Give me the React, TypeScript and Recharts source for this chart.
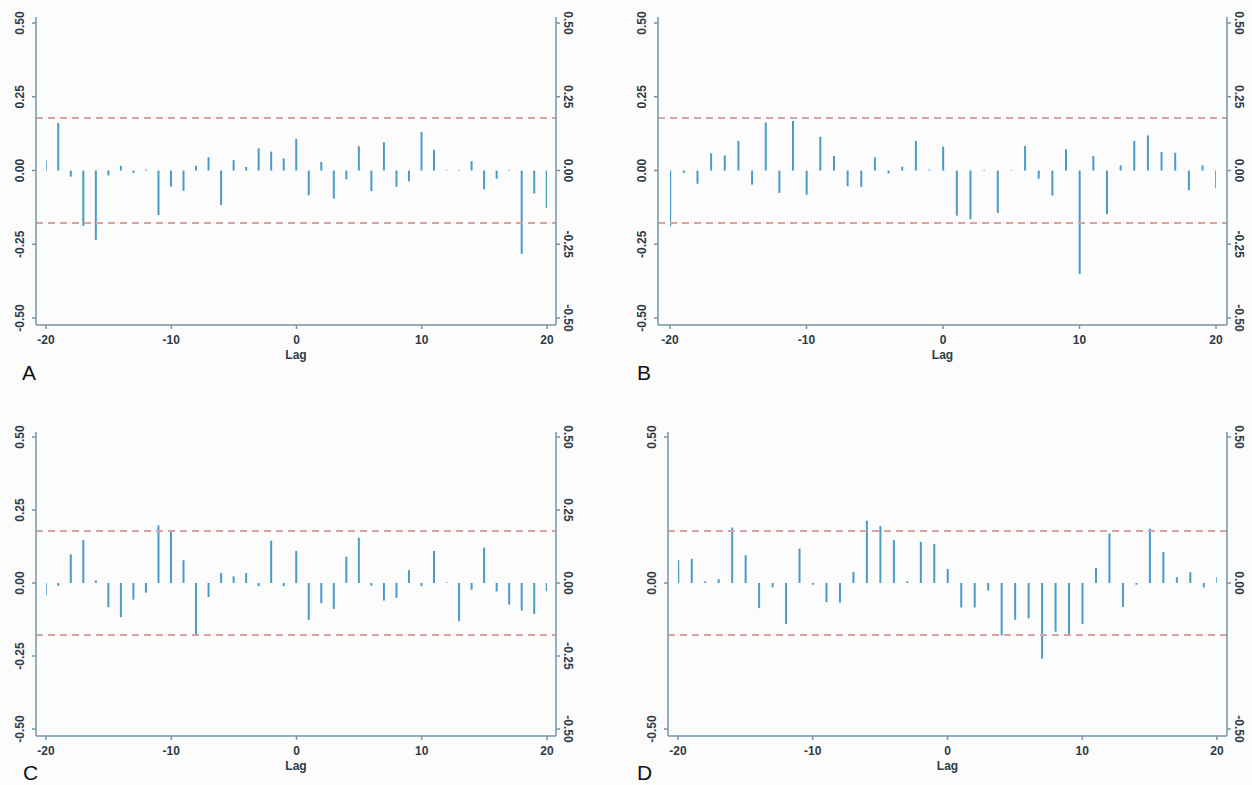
import React from 'react';
import { BarChart, Bar, XAxis, YAxis, ReferenceLine } from 'recharts';

const lags = [-20, -19, -18, -17, -16, -15, -14, -13, -12, -11, -10, -9, -8, -7, -6, -5, -4, -3, -2, -1, 0, 1, 2, 3, 4, 5, 6, 7, 8, 9, 10, 11, 12, 13, 14, 15, 16, 17, 18, 19, 20];

const seriesA = [0.034, 0.161, -0.021, -0.188, -0.235, -0.017, 0.016, -0.008, 0.003, -0.151, -0.055, -0.069, 0.016, 0.045, -0.117, 0.035, 0.012, 0.075, 0.064, 0.041, 0.107, -0.084, 0.029, -0.095, -0.030, 0.082, -0.070, 0.096, -0.055, -0.037, 0.131, 0.070, 0.002, 0.002, 0.032, -0.064, -0.028, 0.002, -0.282, -0.078, -0.127];

const seriesB = [-0.188, -0.008, -0.045, 0.058, 0.051, 0.100, -0.048, 0.163, -0.076, 0.168, -0.082, 0.114, 0.049, -0.053, -0.056, 0.045, -0.010, 0.013, 0.100, 0.003, 0.081, -0.153, -0.165, 0.002, -0.144, 0.002, 0.083, -0.028, -0.085, 0.072, -0.351, 0.049, -0.148, 0.017, 0.100, 0.119, 0.063, 0.060, -0.067, 0.017, -0.059];

const seriesC = [-0.043, -0.010, 0.098, 0.147, 0.009, -0.083, -0.117, -0.057, -0.033, 0.197, 0.178, 0.078, -0.180, -0.048, 0.034, 0.023, 0.034, -0.011, 0.145, -0.011, 0.110, -0.126, -0.069, -0.089, 0.090, 0.155, -0.009, -0.060, -0.051, 0.044, -0.011, 0.110, 0.002, -0.131, -0.023, 0.121, -0.029, -0.074, -0.094, -0.106, -0.028];

const seriesD = [0.078, 0.083, 0.006, 0.013, 0.190, 0.095, -0.086, -0.015, -0.140, 0.118, -0.006, -0.066, -0.067, 0.038, 0.213, 0.195, 0.147, 0.006, 0.141, 0.134, 0.048, -0.084, -0.084, -0.026, -0.180, -0.126, -0.121, -0.259, -0.167, -0.180, -0.141, 0.052, 0.170, -0.082, -0.006, 0.186, 0.106, 0.020, 0.037, -0.015, 0.020];

const xTicks = [-20, -10, 0, 10, 20];
const yTicksFull = [-0.5, -0.25, 0, 0.25, 0.5];
const yTicksCoarse = [-0.5, 0, 0.5];
const bandLimit = 0.178;
const panelLetters = ['A', 'B', 'C', 'D'];
const xAxisTitle = 'Lag';

const BAR = '#4b9bc8';
const DASH = '#d6a4a4';
const AXIS = '#7895a4';
const TEXT = '#2e3b45';
const FONT = '"Liberation Sans", Arial, Helvetica, sans-serif';

const fmt = (v: number) => v.toFixed(2);

const LeftTick = (props: any) => {
  const { x, y, payload } = props;
  return (
    <text
      transform={`translate(${x - 12},${y}) rotate(-90)`}
      textAnchor="middle"
      dominantBaseline="central"
      fontSize={12}
      fontWeight="bold"
      fill={TEXT}
      fontFamily={FONT}
    >
      {fmt(payload.value)}
    </text>
  );
};

const RightTick = (props: any) => {
  const { x, y, payload } = props;
  return (
    <text
      transform={`translate(${x + 8},${y}) rotate(90)`}
      textAnchor="middle"
      dominantBaseline="central"
      fontSize={12}
      fontWeight="bold"
      fill={TEXT}
      fontFamily={FONT}
    >
      {fmt(payload.value)}
    </text>
  );
};

const BottomTick = (props: any) => {
  const { x, y, payload } = props;
  return (
    <text x={x} y={y + 15} textAnchor="middle" fontSize={12} fontWeight="bold" fill={TEXT} fontFamily={FONT}>
      {payload.value}
    </text>
  );
};

const LagLabel = (props: any) => {
  const vb = props.viewBox || {};
  return (
    <text
      x={vb.x + vb.width / 2}
      y={vb.y + 34}
      textAnchor="middle"
      fontSize={12}
      fontWeight="bold"
      fill={TEXT}
      fontFamily={FONT}
    >
      {xAxisTitle}
    </text>
  );
};

type PanelProps = {
  values: number[];
  left: number;
  top: number;
  width: number;
  height: number;
  plotL: number;
  plotR: number;
  plotT: number;
  plotB: number;
  padXL: number;
  padXR: number;
  padYT: number;
  padYB: number;
  yTicks: number[];
};

const Panel = (p: PanelProps) => {
  const data = lags.map((lag, i) => ({ lag, v: p.values[i] }));
  const leftW = p.plotL;
  const rightW = p.width - p.plotR;
  const xAxisH = 40;
  return (
    <div style={{ position: 'absolute', left: p.left, top: p.top, width: p.width, height: p.height }}>
      <BarChart
        width={p.width}
        height={p.height}
        data={data}
        margin={{ top: p.plotT, bottom: p.height - p.plotB - xAxisH, left: 0, right: 0 }}
        barGap={0}
        barCategoryGap={0}
      >
        <XAxis
          dataKey="lag"
          type="number"
          domain={[-20, 20]}
          ticks={xTicks}
          allowDataOverflow
          padding={{ left: p.padXL, right: p.padXR }}
          height={xAxisH}
          stroke={AXIS}
          strokeWidth={1.5}
          tickSize={4}
          tickMargin={0}
          tick={<BottomTick />}
          tickLine={{ stroke: AXIS, strokeWidth: 1.5 }}
          label={<LagLabel />}
        />
        <YAxis
          yAxisId="left"
          orientation="left"
          type="number"
          domain={[-0.5, 0.5]}
          ticks={p.yTicks}
          allowDataOverflow
          padding={{ top: p.padYT, bottom: p.padYB }}
          width={leftW}
          stroke={AXIS}
          strokeWidth={1.5}
          tickSize={4}
          tickMargin={0}
          tick={<LeftTick />}
          tickLine={{ stroke: AXIS, strokeWidth: 1.5 }}
        />
        <YAxis
          yAxisId="right"
          orientation="right"
          type="number"
          domain={[-0.5, 0.5]}
          ticks={p.yTicks}
          allowDataOverflow
          padding={{ top: p.padYT, bottom: p.padYB }}
          width={rightW}
          stroke={AXIS}
          strokeWidth={1.5}
          tickSize={4}
          tickMargin={0}
          tick={<RightTick />}
          tickLine={{ stroke: AXIS, strokeWidth: 1.5 }}
        />
        <ReferenceLine yAxisId="left" y={bandLimit} stroke={DASH} strokeWidth={2} strokeDasharray="7 5" />
        <ReferenceLine yAxisId="left" y={-bandLimit} stroke={DASH} strokeWidth={2} strokeDasharray="7 5" />
        <Bar yAxisId="left" dataKey="v" fill={BAR} barSize={2} isAnimationActive={false} />
      </BarChart>
    </div>
  );
};

export default function App() {
  return (
    <div style={{ position: 'absolute', left: 0, top: 0, width: 1252, height: 785, background: '#fcfcfd', overflow: 'hidden' }}>
      <Panel values={seriesA} left={0} top={0} width={626} height={390} plotL={36} plotR={556} plotT={17} plotB={325} padXL={10} padXR={9} padYT={6} padYB={7} yTicks={yTicksFull} />
      <Panel values={seriesB} left={626} top={0} width={626} height={390} plotL={32} plotR={601} plotT={17} plotB={325} padXL={12} padXR={11} padYT={6} padYB={7} yTicks={yTicksFull} />
      <Panel values={seriesC} left={0} top={390} width={626} height={395} plotL={36} plotR={556} plotT={42} plotB={346} padXL={10} padXR={9} padYT={5} padYB={7} yTicks={yTicksFull} />
      <Panel values={seriesD} left={626} top={390} width={626} height={395} plotL={42} plotR={601} plotT={42} plotB={346} padXL={10} padXR={10} padYT={5} padYB={7} yTicks={yTicksCoarse} />
      <svg width={1252} height={785} style={{ position: 'absolute', left: 0, top: 0, pointerEvents: 'none' }}>
        <text x={22} y={380} fontSize={21} fill="#111" fontFamily={FONT}>{panelLetters[0]}</text>
        <text x={637} y={380} fontSize={21} fill="#111" fontFamily={FONT}>{panelLetters[1]}</text>
        <text x={23} y={780} fontSize={21} fill="#111" fontFamily={FONT}>{panelLetters[2]}</text>
        <text x={637} y={780} fontSize={21} fill="#111" fontFamily={FONT}>{panelLetters[3]}</text>
      </svg>
    </div>
  );
}
